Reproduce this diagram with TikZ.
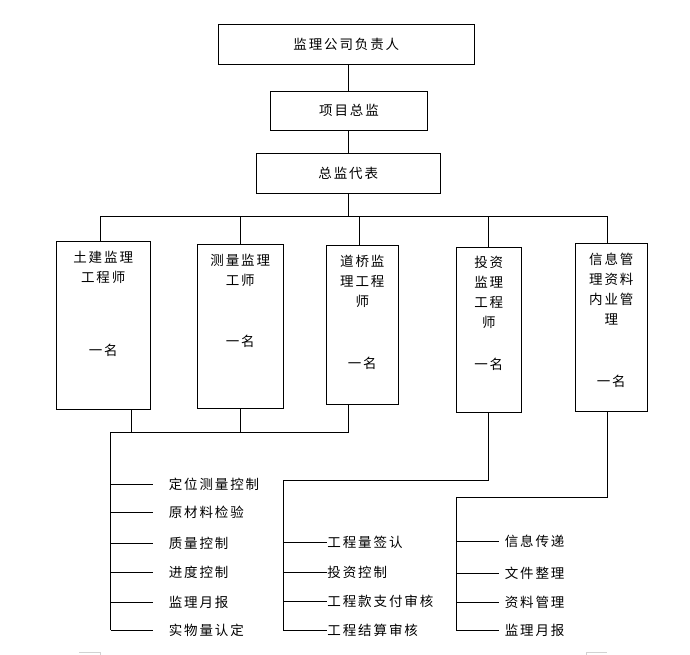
\documentclass[tikz,border=0pt]{standalone}
\usepackage{fontspec}
\newfontfamily\cjk[LetterSpace=14]{Noto Sans CJK SC}

\begin{document}
\begin{tikzpicture}[x=1pt,y=-1pt,line width=0.9pt,
		box/.style={draw,inner sep=0pt},
		lbl/.style={font=\cjk\fontsize{13.5}{20}\selectfont,inner sep=0pt,align=center},
		itemA/.style={lbl,anchor=west,inner xsep=15pt},
		itemB/.style={lbl,anchor=west,inner xsep=0.3pt},
		itemC/.style={lbl,anchor=west,inner xsep=5pt}]
		\useasboundingbox (0,0) rectangle (690,655);
		\coordinate (axis) at (348,0);

		% Top of the chart
		\node[box,lbl,minimum width=256pt,minimum height=40pt] (head) at (346.3,44.3) {监理公司负责人};
		\node[box,lbl,minimum width=157.4pt,minimum height=39pt] (chief) at (349,110.8) {项目总监};
		\node[box,lbl,minimum width=183.3pt,minimum height=40pt] (deputy) at (348.3,173.3) {总监代表};
		\draw (head.south -| axis) -- (chief.north -| axis);
		\draw (chief.south -| axis) -- (deputy.north -| axis);

		% Engineers
		\node[box,minimum width=93.7pt,minimum height=168pt] (civil) at (103.2,325) {};
		\node[lbl] (civilT) at (103.2,267) {土建监理\\工程师};
		\node[lbl] (civilN) at (103.2,350) {一名};

		\node[box,minimum width=86pt,minimum height=164.3pt] (survey) at (240.3,326.2) {};
		\node[lbl] (surveyT) at (240.3,270.5) {测量监理\\工师};
		\node[lbl] (surveyN) at (240.3,341.7) {一名};

		\node[box,minimum width=72pt,minimum height=159.3pt] (bridge) at (362.3,324.7) {};
		\node[lbl] (bridgeT) at (362.3,281) {道桥监\\理工程\\师};
		\node[lbl] (bridgeN) at (362.3,363) {一名};

		\node[box,minimum width=65pt,minimum height=164.7pt] (invest) at (488.8,329.7) {};
		\node[lbl] (investT) at (488.8,292.8) {投资\\监理\\工程\\师};
		\node[lbl] (investN) at (488.8,364) {一名};

		\node[box,minimum width=72pt,minimum height=168pt] (info) at (611.3,327.3) {};
		\node[lbl] (infoT) at (611.3,289) {信息管\\理资料\\内业管\\理};
		\node[lbl] (infoN) at (611.3,381.7) {一名};

		% Bus under the deputy
		\coordinate (busL) at (100.3,216);
		\coordinate (busR) at (607.7,216);
		\coordinate (dB) at (359.3,216);
		\draw (deputy.south -| axis) -- (busL -| axis);
		\draw (busL) -- (busR);
		\draw (busL) -- (busL |- civil.north);
		\draw (survey.north |- busL) -- (survey.north);
		\draw (dB) -- (dB |- bridge.north);
		\draw (invest.north |- busL) -- (invest.north);
		\draw (busR) -- (busR |- info.north);

		% Quality and progress duties
		\coordinate (jA) at (110.7,432);
		\coordinate (cA) at (131.3,432);
		\draw (cA) -- (cA |- civil.south);
		\draw (survey.south) -- (survey.south |- jA);
		\draw (jA) -- (jA -| axis) -- (bridge.south -| axis);
		\node[itemA] (qa1) at (153.3,484) {定位测量控制};
		\node[itemA] (qa2) at (153.3,512.5) {原材料检验};
		\node[itemA] (qa3) at (153.3,543) {质量控制};
		\node[itemA] (qa4) at (153.3,572.7) {进度控制};
		\node[itemA] (qa5) at (153.3,602) {监理月报};
		\node[itemA] (qa6) at (153.3,630) {实物量认定};
		\draw (jA) -- (jA |- qa6.west);
		\draw (jA |- qa1.west) -- (qa1.west);
		\draw (jA |- qa2.west) -- (qa2.west);
		\draw (jA |- qa3.west) -- (qa3.west);
		\draw (jA |- qa4.west) -- (qa4.west);
		\draw (jA |- qa5.west) -- (qa5.west);
		\draw (jA |- qa6.west) -- (qa6.west);

		% Investment duties
		\coordinate (jB) at (283.3,480.3);
		\node[itemB] (qb1) at (326.7,542.5) {工程量签认};
		\node[itemB] (qb2) at (326.7,572.2) {投资控制};
		\node[itemB] (qb3) at (326.7,601.5) {工程款支付审核};
		\node[itemB] (qb4) at (326.7,630.7) {工程结算审核};
		\draw (invest.south) -- (invest.south |- jB) -- (jB) -- (jB |- qb4.west);
		\draw (jB |- qb1.west) -- (qb1.west);
		\draw (jB |- qb2.west) -- (qb2.west);
		\draw (jB |- qb3.west) -- (qb3.west);
		\draw (jB |- qb4.west) -- (qb4.west);

		% Information duties
		\coordinate (jC) at (456.7,497);
		\node[itemC] (qc1) at (499.3,541.7) {信息传递};
		\node[itemC] (qc2) at (499.3,573) {文件整理};
		\node[itemC] (qc3) at (499.3,602) {资料管理};
		\node[itemC] (qc4) at (499.3,630.7) {监理月报};
		\draw (busR |- info.south) -- (busR |- jC) -- (jC) -- (jC |- qc4.west);
		\draw (jC |- qc1.west) -- (qc1.west);
		\draw (jC |- qc2.west) -- (qc2.west);
		\draw (jC |- qc3.west) -- (qc3.west);
		\draw (jC |- qc4.west) -- (qc4.west);

		% Page corner marks
		\draw[gray!35,line width=0.7pt] (79,652.3) -- (100.7,652.3) -- (100.7,655);
		\draw[gray!35,line width=0.7pt] (586,655) -- (586,652.3) -- (606.7,652.3);
	\end{tikzpicture}
\end{document}
